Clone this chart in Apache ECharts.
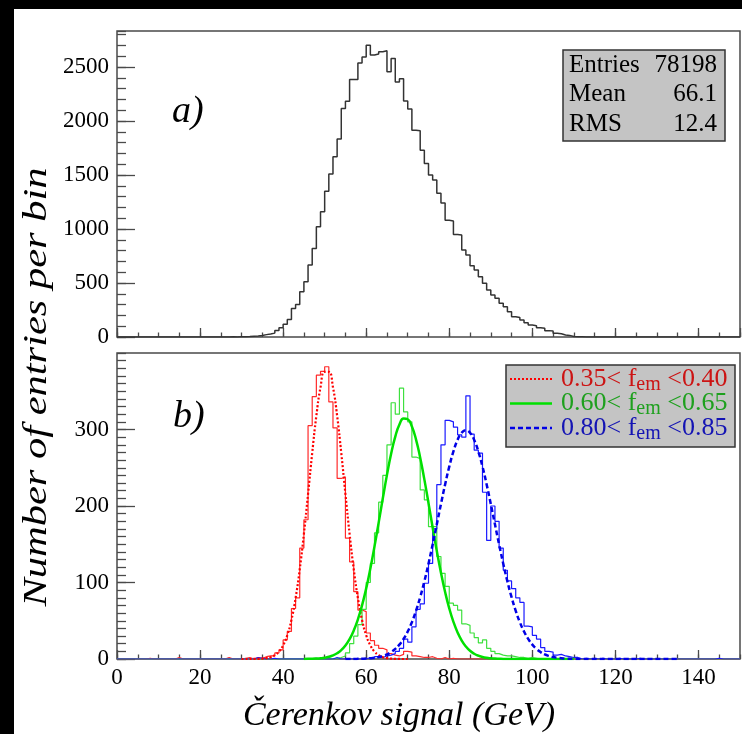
<!DOCTYPE html>
<html><head><meta charset="utf-8">
<script src="https://cdn.jsdelivr.net/npm/echarts@6/dist/echarts.min.js"></script>
<style>
html,body{margin:0;padding:0;background:#000;width:742px;height:734px;overflow:hidden;}
#chart{position:absolute;left:14px;top:9px;width:728px;height:725px;}
</style></head><body><div id="chart"></div>
<script>
const OX = 14, OY = 9;           // offset of white page inside black frame
const NBINS = 150;               // 1-GeV bins from 0 to 150 GeV

// ---- panel a) : all events ----
const topStart = 25;
const topCounts = [1,0,2,1,2,
  3,5,8,10,14,22,28,36,60,86,
  117,163,265,302,419,512,666,820,1020,1160,
  1350,1508,1668,1832,2115,2183,2383,2383,2537,2593,
  2701,2610,2620,2640,2650,2455,2578,2360,2390,2185,
  2110,1915,1910,1730,1607,1500,1453,1330,1240,1080,
  1075,950,945,805,760,660,620,558,497,435,
  389,358,312,281,234,188,180,157,133,111,
  105,86,80,59,55,34,30,18,15,5,3,2,1];

// ---- panel b) : three f_em slices ----
const redStart = 7;
const redCounts = [1,0,0,0,0,0,0,2,0,0,0,0,0,0,0,0,0,0,0,
  2,0,0,0,1,2,0,2,1,3,4,4,8,12,
  25,36,66,80,145,182,305,343,371,376,
  382,336,302,236,238,158,127,88,64,62,
  34,24,18,14,12,7,5,4,6,10,
  9,4,3,2,2,3,1,0,2,0,1];
const greenStart = 50;
const greenCounts = [2,0,1,2,4,8,20,30,45,65,
  100,125,165,205,240,280,335,320,354,323,
  310,264,262,221,208,173,173,134,112,95,
  73,70,64,46,44,34,28,21,25,14,
  10,7,5,4,4,3,2,2,1,2,1];
const blueStart = 33;
const blueCounts = [2,1,0,0,1,0,0,0,0,0,0,0,0,0,1,0,0,0,0,2,0,0,0,0,0,0,0,
  2,0,3,2,4,5,7,10,14,26,
  22,42,65,72,99,125,170,228,280,312,
  310,303,293,290,344,294,273,269,218,155,
  200,180,145,116,102,92,80,74,43,42,
  31,26,15,10,9,5,6,4,3,2,
  2,0,1,0,1,0,1,0,0,0,1,0,0,0,0,1,
  0,0,0,0,0,0,0,0,0,0,0,0,0,0,0,0,0,0,1];

// fitted curves, read at 1-GeV steps
const redFitStart = 30;
const redFit = [0,0,0,0.1,0.2,0.5,
  1.1,2.4,5.0,9.7,17.8,31.0,51.1,79.6,117.3,163.5,215.7,269.2,317.9,355.2,375.4,
  375.4,355.2,317.9,269.2,215.7,163.5,117.3,79.6,51.1,31.0,17.8,9.7,5.0,2.4,1.1,
  0.5,0.2,0.1,0,0];
const greenFitStart = 45;
const greenFit = [0.1,0.2,0.3,0.6,1.0,1.7,2.9,
  4.7,7.5,11.7,17.7,26.0,37.2,51.8,70.1,92.3,118.2,147.2,178.3,210.1,240.7,268.3,290.8,306.5,314.3,
  313.4,304.0,286.8,263.1,234.8,203.8,172.0,141.2,112.8,87.6,66.1,48.6,34.7,24.1,16.3,10.7,6.9,4.3,2.6,1.5,0.9,
  0.5,0.3,0.1,0,0,0,0,0,0,0,0,0,0,0,0,0,0,0,0,0];
const blueFitStart = 55;
const blueFit = [0,0.1,0.1,0.2,0.4,0.6,1.0,1.6,2.5,
  4.0,6.0,9.0,13.2,18.8,26.3,35.9,48.1,63.0,80.8,101.4,124.6,149.7,176.0,202.6,228.2,251.5,271.3,286.4,295.8,299,
  295.8,286.4,271.3,251.5,228.2,202.6,176.0,149.7,124.6,101.4,80.8,63.0,48.1,35.9,26.3,18.8,13.2,9.0,6.0,4.0,
  2.5,1.6,1.0,0.6,0.4,0.2,0.1,0.1,
  0,0,0,0,0,0,0,0,0,0,0,0,0,0,0,0,0,0,0,0,0,0,0];

const xTicksMajor = 20, xTicksMinor = 5;
const statsRows = [['Entries','78198'],['Mean','66.1'],['RMS','12.4']];
const legendRows = [
  {lo:'0.35', hi:'0.40', text:'#cc1414', line:'#ff0000', dash:[2,2], w:2},
  {lo:'0.60', hi:'0.65', text:'#1ea01e', line:'#00e000', dash:null, w:2.5},
  {lo:'0.80', hi:'0.85', text:'#1414b4', line:'#0000e6', dash:[5,3], w:2.5}];

function hist(start, counts) {
  const d = [];
  for (let i = 0; i < NBINS; i++) {
    const j = i - start;
    d.push([i, (j >= 0 && j < counts.length) ? counts[j] : 0]);
  }
  d.push([NBINS, d[NBINS - 1][1]]);
  return d;
}
function curve(start, vals) { return vals.map((v, i) => [start + i, v]); }

const FONT = 'Liberation Serif';
const AX = '#4a4a4a';
const plain = v => String(v);
function xAx(grid, interval, len, labels) {
  return {type:'value', gridIndex:grid, min:0, max:NBINS, interval:interval, position:'bottom',
    axisLine:{show:false}, splitLine:{show:false},
    axisTick:{show:true, inside:true, length:len, lineStyle:{color:AX, width:1.3}},
    axisLabel:{show:labels, showMaxLabel:false, margin:7, color:'#000', fontFamily:FONT, fontSize:23, formatter:plain}};
}
function yAx(grid, max, interval, len, labels) {
  return {type:'value', gridIndex:grid, min:0, max:max, interval:interval, position:'left',
    axisLine:{show:false}, splitLine:{show:false},
    axisTick:{show:true, inside:true, length:len, lineStyle:{color:AX, width:1.3}},
    axisLabel:{show:labels, showMaxLabel:false, margin:8, color:'#000', fontFamily:FONT, fontSize:23, formatter:plain}};
}
function lineSeries(data, xi, yi, color, width, opts) {
  return Object.assign({type:'line', data:data, xAxisIndex:xi, yAxisIndex:yi, symbol:'none',
    lineStyle:{color:color, width:width}, animation:false, silent:true, clip:true}, opts||{});
}

const G = [];
const T = (x, y, text, font, fill, align, valign, extra) => Object.assign({type:'text', x:x-OX, y:y-OY, z:100,
  style:{text:text, font:font, fill:fill, align:align, textAlign:align, verticalAlign:valign, textVerticalAlign:valign}}, extra||{});
G.push(T(172, 112, 'a)', 'italic 38px "Liberation Serif"', '#000', 'left', 'middle'));
G.push(T(173, 417, 'b)', 'italic 38px "Liberation Serif"', '#000', 'left', 'middle'));
// stats box
G.push({type:'rect', z:99, shape:{x:563-OX, y:50-OY, width:162, height:91},
  style:{fill:'#c4c4c4', stroke:'#333', lineWidth:1.5}});
statsRows.forEach((r, i) => {
  const yc = 65 + i * 29.5;
  G.push(T(569, yc, r[0], '25px "Liberation Serif"', '#000', 'left', 'middle'));
  G.push(T(717, yc, r[1], '25px "Liberation Serif"', '#000', 'right', 'middle'));
});
// legend box
G.push({type:'rect', z:99, shape:{x:506-OX, y:365-OY, width:229, height:82},
  style:{fill:'#c4c4c4', stroke:'#333', lineWidth:1.5}});
legendRows.forEach((r, i) => {
  const yc = 379 + i * 24.5;
  const st = {stroke:r.line, lineWidth:r.w};
  if (r.dash) st.lineDash = r.dash;
  G.push({type:'line', z:100, shape:{x1:510-OX, y1:yc-OY, x2:552-OX, y2:yc-OY}, style:st});
  G.push({type:'text', x:561-OX, y:yc-OY, z:100, style:{
    text: r.lo + '< f{s|em} <' + r.hi, font:'26px "Liberation Serif"', fill:r.text,
    align:'left', textAlign:'left', verticalAlign:'middle', textVerticalAlign:'middle',
    rich:{s:{fontFamily:FONT, fontSize:20, fill:r.text, padding:[11,0,0,0]}}}});
});
// axis titles
G.push(T(399, 716, 'Čerenkov signal (GeV)', 'italic 34px "Liberation Serif"', '#000', 'center', 'middle'));
G.push(T(37, 387, 'Number of entries per bin', 'italic 34px "Liberation Serif"', '#000', 'center', 'middle',
  {rotation:Math.PI/2, scaleX:1.25, scaleY:1}));

const option = {
  backgroundColor:'#fff',
  animation:false,
  grid:[
    {left:117-OX, right:2, top:31-OY, height:306, show:true, borderColor:AX, borderWidth:1.5, backgroundColor:'transparent'},
    {left:117-OX, right:2, top:353-OY, height:306, show:true, borderColor:AX, borderWidth:1.5, backgroundColor:'transparent'}],
  xAxis:[xAx(0, xTicksMajor, 9, false), xAx(0, xTicksMinor, 4.5, false),
         xAx(1, xTicksMajor, 9, true),  xAx(1, xTicksMinor, 4.5, false)],
  yAxis:[yAx(0, 2833, 500, 18, true), yAx(0, 2833, 100, 9, false),
         yAx(1, 400, 100, 18, true),  yAx(1, 400, 10, 9, false)],
  series:[
    lineSeries(hist(topStart, topCounts), 0, 0, '#333', 1.5, {step:'end'}),
    lineSeries(hist(redStart, redCounts), 2, 2, '#ff2a2a', 1.2, {step:'end'}),
    lineSeries(hist(greenStart, greenCounts), 2, 2, '#3ee03e', 1.2, {step:'end'}),
    lineSeries(hist(blueStart, blueCounts), 2, 2, '#1a1aff', 1.2, {step:'end'}),
    lineSeries(curve(redFitStart, redFit), 2, 2, '#ff0000', 2.2, {smooth:true, lineStyle:{color:'#ff0000', width:2.2, type:[2,2]}}),
    lineSeries(curve(greenFitStart, greenFit), 2, 2, '#00e000', 2.5, {smooth:true}),
    lineSeries(curve(blueFitStart, blueFit), 2, 2, '#0000e6', 2.5, {smooth:true, lineStyle:{color:'#0000e6', width:2.5, type:[5,3]}})
  ],
  graphic:{elements:G}
};
const chart = echarts.init(document.getElementById('chart'), null, {renderer:'canvas'});
chart.setOption(option);
</script></body></html>
